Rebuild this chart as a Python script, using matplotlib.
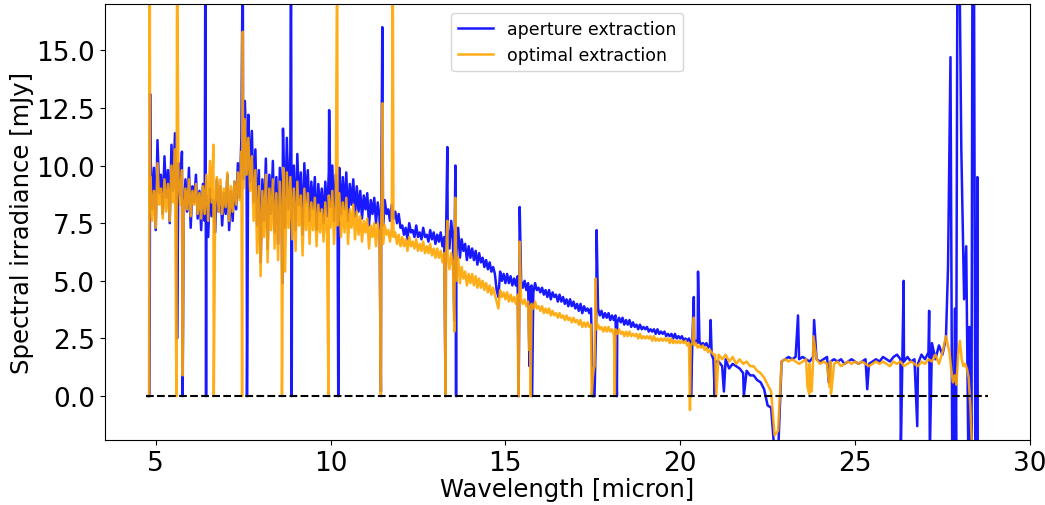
import numpy as np
import matplotlib.pyplot as plt

# sampled wavelength grid [micron]
wl_grid = [
    4.85, 4.90, 4.95, 5.00, 5.05, 5.10, 5.15, 5.20, 5.25, 5.30,
    5.35, 5.40, 5.45, 5.50, 5.55, 5.60, 5.65, 5.70, 5.75, 5.80,
    5.85, 5.90, 5.95, 6.00, 6.05, 6.10, 6.15, 6.20, 6.25, 6.30,
    6.35, 6.40, 6.45, 6.50, 6.55, 6.60, 6.65, 6.70, 6.75, 6.80,
    6.85, 6.90, 6.95, 7.00, 7.05, 7.10, 7.15, 7.20, 7.25, 7.30,
    7.35, 7.40, 7.45, 7.50, 7.55, 7.60, 7.65, 7.70, 7.75, 7.80,
    7.85, 7.90, 7.95, 8.00, 8.05, 8.10, 8.15, 8.20, 8.25, 8.30,
    8.35, 8.40, 8.45, 8.50, 8.55, 8.60, 8.65, 8.70, 8.75, 8.80,
    8.85, 8.90, 8.95, 9.00, 9.05, 9.10, 9.15, 9.20, 9.25, 9.30,
    9.35, 9.40, 9.45, 9.50, 9.55, 9.60, 9.65, 9.70, 9.75, 9.80,
    9.85, 9.90, 9.95, 10.00, 10.05, 10.10, 10.15, 10.20, 10.25, 10.30,
    10.35, 10.40, 10.45, 10.50, 10.55, 10.60, 10.65, 10.70, 10.75, 10.80,
    10.85, 10.90, 10.95, 11.00, 11.05, 11.10, 11.15, 11.20, 11.25, 11.30,
    11.35, 11.40, 11.45, 11.50, 11.55, 11.60, 11.65, 11.70, 11.75, 11.80,
    11.85, 11.90, 11.95, 12.00,
    12.05, 12.10, 12.15, 12.20, 12.25, 12.30, 12.35, 12.40, 12.45, 12.50,
    12.55, 12.60, 12.65, 12.70, 12.75, 12.80, 12.85, 12.90, 12.95, 13.00,
    13.05, 13.10, 13.15, 13.20, 13.25, 13.30, 13.35, 13.40, 13.45, 13.50,
    13.55, 13.60, 13.65, 13.70, 13.75, 13.80, 13.85, 13.90, 13.95, 14.00,
    14.05, 14.10, 14.15, 14.20, 14.25, 14.30, 14.35, 14.40, 14.45, 14.50,
    14.55, 14.60, 14.65, 14.70, 14.75, 14.80, 14.85, 14.90, 14.95, 15.00,
    15.05, 15.10, 15.15, 15.20, 15.25, 15.30, 15.35, 15.40, 15.45, 15.50,
    15.55, 15.60, 15.65, 15.70, 15.75, 15.80, 15.85, 15.90, 15.95, 16.00,
    16.05, 16.10, 16.15, 16.20, 16.25, 16.30, 16.35, 16.40, 16.45, 16.50,
    16.55, 16.60, 16.65, 16.70, 16.75, 16.80, 16.85, 16.90, 16.95, 17.00,
    17.05, 17.10, 17.15, 17.20, 17.25, 17.30, 17.35, 17.40, 17.45, 17.50,
    17.55, 17.60, 17.65, 17.70, 17.75, 17.80, 17.85, 17.90, 17.95, 18.00,
    18.05, 18.10, 18.15, 18.20, 18.25, 18.30, 18.35, 18.40, 18.45, 18.50,
    18.55, 18.60, 18.65, 18.70, 18.75, 18.80, 18.85, 18.90, 18.95, 19.00,
    19.05, 19.10, 19.15, 19.20, 19.25, 19.30, 19.35, 19.40, 19.45, 19.50,
    19.55, 19.60, 19.65, 19.70, 19.75, 19.80, 19.85, 19.90, 19.95, 20.00,
    20.05, 20.10, 20.15, 20.20, 20.25, 20.30, 20.35, 20.40, 20.45, 20.50,
    20.55, 20.60, 20.65, 20.70, 20.75, 20.80, 20.85, 20.90, 20.95, 21.00,
    21.1, 21.2, 21.3, 21.4, 21.5, 21.6, 21.7, 21.8, 21.9, 22.0,
    22.1, 22.2, 22.3, 22.4, 22.5, 22.6, 22.7, 22.8, 22.9, 23.0,
    23.1, 23.2, 23.3, 23.4, 23.5, 23.6, 23.7, 23.8, 23.9, 24.0,
    24.1, 24.2, 24.3, 24.4, 24.5, 24.6, 24.7, 24.8, 24.9, 25.0,
    25.1, 25.2, 25.3, 25.4, 25.5, 25.6, 25.7, 25.8, 25.9, 26.0,
    26.1, 26.2, 26.3, 26.4, 26.5, 26.6, 26.7, 26.8, 26.9, 27.0,
    27.1, 27.2, 27.3, 27.4, 27.5, 27.6,
]

# aperture extraction [mJy]
aperture_grid = [
    10.6, 8.1, 9.9, 7.2, 11.1, 8.8, 9.6, 7.9, 10.4, 8.6,
    9.8, 7.5, 10.9, 8.9, 11.4, 8.2, 10.1, 8.7, 10.6, 7.8,
    9.4, 8.0, 9.9, 7.3, 9.1, 8.4, 9.6, 7.7, 8.9, 7.2,
    9.2, 7.6, 8.7, 6.9, 9.0, 7.8, 8.5, 7.1, 9.4, 8.0,
    9.1, 7.4, 8.8, 7.9, 9.6, 7.2, 8.9, 7.6, 9.3, 8.1,
    10.1, 8.6, 11.2, 9.4, 12.8, 10.1, 12.2, 9.3, 11.5, 8.4,
    10.7, 7.4, 9.8, 5.8, 9.4, 7.6, 10.3, 6.4, 9.6, 7.9,
    10.2, 7.1, 9.5, 6.6, 9.9, 7.8, 10.8, 7.3, 11.2, 8.1,
    10.6, 7.9, 10.0, 7.2, 10.5, 8.3, 9.7, 7.0, 10.1, 8.4,
    9.8, 7.6, 9.3, 8.1, 9.5, 7.2, 9.2, 8.0, 9.0, 7.5,
    9.3, 7.8, 9.7, 8.2, 10.0, 7.6, 9.6, 8.4, 9.9, 7.9,
    9.5, 8.1, 9.7, 7.6, 9.2, 8.3, 9.4, 7.8, 9.1, 8.0,
    8.9, 7.7, 8.7, 8.1, 8.8, 7.4, 8.5, 7.9, 8.6, 7.5,
    8.4, 7.8, 8.2, 7.4, 8.5, 7.9, 8.1, 7.6, 8.3, 7.7,
    8.0, 7.5, 7.9, 7.3,
    7.4, 7.0, 7.3, 6.8, 7.5, 7.1, 7.2, 6.9, 7.4, 6.9,
    7.1, 6.8, 7.3, 6.9, 7.0, 6.7, 7.2, 6.8, 7.1, 6.6,
    7.0, 6.7, 7.1, 6.5, 6.9, 6.6, 7.3, 6.4, 7.6, 6.8,
    6.9, 6.2, 7.3, 6.0, 6.8, 6.3, 6.6, 5.9, 6.5, 6.0,
    6.4, 5.9, 6.3, 5.7, 6.2, 5.8, 6.0, 5.6, 5.9, 5.5,
    5.8, 5.4, 5.6, 5.3, 4.6, 4.3, 5.4, 5.0, 5.3, 4.9,
    5.3, 4.9, 5.2, 4.8, 5.1, 4.8, 5.2, 4.7, 5.0, 4.7,
    5.0, 4.6, 4.9, 4.7, 4.8, 4.5, 4.9, 4.6, 4.7, 4.5,
    4.7, 4.4, 4.6, 4.3, 4.6, 4.2, 4.5, 4.3, 4.4, 4.1,
    4.4, 4.1, 4.3, 4.0, 4.2, 3.9, 4.2, 3.9, 4.1, 3.8,
    4.0, 3.7, 4.0, 3.6, 3.9, 3.7, 3.8, 3.6, 3.8, 0.0,
    0.0, 3.5, 3.8, 3.5, 3.7, 3.4, 3.6, 3.4, 3.6, 3.3,
    3.5, 3.3, 3.5, 3.2, 3.4, 3.2, 3.4, 3.1, 3.3, 3.1,
    3.3, 3.0, 3.2, 3.0, 3.1, 2.9, 3.1, 2.9, 3.0, 2.9,
    3.0, 2.8, 2.9, 2.8, 2.9, 2.7, 2.9, 2.7, 2.8, 2.7,
    2.8, 2.6, 2.7, 2.6, 2.7, 2.5, 2.7, 2.5, 2.6, 2.5,
    2.6, 2.4, 2.5, 2.4, 2.5, 2.3, 2.5, 2.3, 2.4, 2.3,
    2.4, 2.2, 2.3, 2.2, 2.3, 2.1, 2.2, 1.8, 1.6, 1.5,
    1.5, 1.3, 1.6, 1.2, 1.4, 1.3, 1.2, 1.0, 1.1, 0.9,
    0.9, 0.7, 0.6, 0.3, -0.4, -0.5, -2.5, -2.5, 1.5, 1.6,
    1.7, 1.6, 1.7, 1.6, 1.7, 1.6, 1.5, 1.7, 1.6, 1.5,
    1.6, 1.7, 1.5, 1.6, 1.5, 1.6, 1.4, 1.5, 1.6, 1.5,
    1.4, 1.5, 1.6, 1.4, 1.5, 1.6, 1.5, 1.7, 1.6, 1.5,
    1.7, 1.8, 1.6, 1.5, 1.7, 1.5, 1.6, 1.4, 1.8, 1.6,
    1.9, 2.3, 1.6, 2.2, 1.8, 2.5,
]

# optimal extraction [mJy]
optimal_grid = [
    9.5, 7.6, 8.9, 7.3, 10.1, 8.3, 9.0, 7.7, 9.4, 8.0,
    9.2, 7.6, 10.0, 8.4, 10.7, 8.1, 9.5, 8.3, 9.8, 7.9,
    9.0, 8.1, 9.4, 7.8, 8.9, 8.3, 9.2, 7.9, 8.8, 7.7,
    9.1, 7.9, 9.6, 7.6, 10.2, 8.4, 10.9, 8.2, 9.5, 8.0,
    9.4, 7.9, 9.0, 8.2, 9.7, 7.6, 9.1, 8.0, 9.3, 8.3,
    9.7, 8.5, 10.6, 9.0, 12.0, 9.6, 11.2, 8.9, 10.4, 7.6,
    9.8, 6.2, 9.1, 5.2, 8.9, 6.9, 9.6, 5.8, 9.0, 7.2,
    9.4, 6.4, 8.8, 5.9, 9.3, 7.0, 9.9, 5.4, 9.7, 7.3,
    9.5, 6.8, 9.0, 6.3, 9.3, 7.4, 8.7, 6.1, 9.0, 7.2,
    8.8, 6.6, 8.4, 7.2, 8.6, 6.5, 8.3, 7.1, 8.1, 6.7,
    8.4, 6.9, 8.7, 7.3, 8.9, 6.6, 8.5, 7.4, 8.8, 6.9,
    8.4, 7.1, 8.6, 6.6, 8.1, 7.3, 8.3, 6.8, 8.0, 7.0,
    7.8, 6.7, 7.6, 7.1, 7.7, 6.4, 7.4, 6.9, 7.5, 6.5,
    7.5, 6.9, 7.3, 6.6, 7.4, 7.0, 7.2, 6.7, 7.3, 6.9,
    7.1, 6.6, 7.0, 6.5,
    6.9, 6.5, 6.8, 6.3, 6.9, 6.5, 6.7, 6.4, 6.8, 6.3,
    6.6, 6.3, 6.7, 6.2, 6.5, 6.2, 6.6, 6.1, 6.4, 6.0,
    6.4, 6.0, 6.3, 5.8, 6.2, 5.9, 6.1, 5.5, 6.2, 5.6,
    5.8, 5.0, 6.0, 4.9, 5.6, 5.1, 5.4, 4.8, 5.3, 4.9,
    5.3, 4.8, 5.2, 4.7, 5.1, 4.7, 5.0, 4.6, 4.9, 4.5,
    4.8, 4.4, 4.7, 4.4, 4.1, 3.8, 4.6, 4.3, 4.5, 4.2,
    4.5, 4.1, 4.4, 4.1, 4.3, 4.0, 4.4, 4.0, 4.2, 4.0,
    4.2, 3.9, 4.1, 3.9, 4.0, 3.8, 4.1, 3.8, 3.9, 3.7,
    3.9, 3.6, 3.8, 3.6, 3.8, 3.5, 3.7, 3.5, 3.6, 3.4,
    3.6, 3.4, 3.5, 3.3, 3.5, 3.3, 3.4, 3.2, 3.4, 3.2,
    3.3, 3.1, 3.3, 3.0, 3.2, 3.0, 3.2, 3.0, 3.1, 0.8,
    1.3, 2.9, 3.1, 2.9, 3.0, 2.8, 3.0, 2.8, 3.0, 2.8,
    2.9, 2.7, 2.9, 2.7, 2.9, 2.7, 2.8, 2.6, 2.8, 2.6,
    2.8, 2.6, 2.7, 2.6, 2.7, 2.5, 2.7, 2.5, 2.6, 2.5,
    2.6, 2.5, 2.6, 2.4, 2.6, 2.4, 2.5, 2.4, 2.5, 2.4,
    2.5, 2.4, 2.5, 2.3, 2.5, 2.3, 2.4, 2.3, 2.4, 2.3,
    2.4, 2.3, 2.4, 2.2, 2.3, 2.2, 2.3, 2.2, 2.3, 2.1,
    2.2, 2.1, 2.2, 2.0, 2.1, 1.9, 2.0, 1.9, 1.8, 1.8,
    1.8, 1.6, 1.8, 1.5, 1.7, 1.4, 1.6, 1.4, 1.5, 1.3,
    1.3, 1.1, 1.0, 0.8, 0.5, 0.2, -1.7, -1.5, 1.5, 1.6,
    1.5, 1.6, 1.5, 1.4, 1.5, 1.6, 1.4, 1.5, 1.6, 1.4,
    1.5, 1.4, 1.5, 1.4, 1.5, 1.3, 1.4, 1.5, 1.4, 1.5,
    1.4, 1.5, 1.4, 1.3, 1.4, 1.5, 1.4, 1.5, 1.4, 1.3,
    1.5, 1.4, 1.5, 1.3, 1.4, 1.5, 1.4, 1.3, 1.5, 1.4,
    1.6, 1.5, 1.8, 1.4, 1.9, 2.6,
]

# red end of the spectrum, irregular sampling
aperture_tail_wl = [27.66, 27.73, 27.78, 27.82, 27.86, 27.89, 27.93, 27.98, 28.04, 28.12,
                    28.18, 28.24, 28.27, 28.33, 28.36, 28.40, 28.44, 28.47, 28.50, 28.51]
aperture_tail = [5.6, 14.7, -2.5, -2.5, 3.8, -2.5, 20.0, 20.0, 10.7, 4.2,
                 6.5, -2.5, 3.0, -2.5, 20.0, 20.0, -2.5, -2.5, 9.5, -2.5]
optimal_tail_wl = [27.70, 27.75, 27.80, 27.85, 27.90, 27.95, 28.00, 28.05, 28.10, 28.15,
                   28.20, 28.25, 28.30, 28.35, 28.40]
optimal_tail = [1.9, 1.2, 0.6, 0.9, 0.5, 1.8, 2.4, 1.6, 1.3, 1.4,
                1.2, 0.8, -0.5, -2.5, -2.5]

# spikes and dropouts
aperture_spike_wl = [4.80, 4.82, 4.83, 4.84, 5.61, 5.77, 6.42, 6.44, 7.49, 7.61,
                     8.62, 8.64, 8.87, 8.89, 9.96, 10.22, 11.44, 11.48,
                     13.29, 13.34, 13.54, 13.57, 13.59, 15.38, 15.41, 15.69, 15.76,
                     17.61, 18.19, 20.31, 20.39, 20.51, 20.87, 20.99, 21.25, 21.82,
                     23.37, 23.83, 24.25, 25.35, 26.31, 26.39, 26.78, 27.12, 27.14]
aperture_spike = [0.0, 0.0, 4.3, 13.1, 2.5, 0.0, 20.0, 0.0, 20.0, 0.0,
                  4.9, 11.6, 20.0, 0.0, 12.4, 0.0, 0.2, 16.0,
                  0.0, 10.8, 3.3, 10.0, 0.0, 0.0, 8.2, 1.3, 0.0,
                  7.2, 0.0, 0.0, 4.3, 5.4, 3.3, 0.0, 0.2, 0.0,
                  3.5, 3.3, 0.6, 0.3, -2.5, 5.0, -1.3, 3.7, -2.5]
optimal_spike_wl = [4.81, 4.83, 4.84, 5.59, 5.61, 5.77, 6.66, 7.47, 7.49, 8.61,
                    9.94, 10.19, 11.44, 11.49, 11.78,
                    13.29, 13.34, 13.54, 13.57, 15.37, 15.41, 15.68, 15.72,
                    17.47, 17.53, 17.58, 18.11, 18.13, 20.28, 20.39, 21.03,
                    23.64, 23.69, 23.76, 23.81, 24.27, 24.31, 24.33]
optimal_spike = [0.0, 20.0, 8.0, 0.0, 20.0, 0.9, 0.0, 0.0, 15.8, 0.0,
                 0.0, 20.0, 0.0, 12.7, 20.0,
                 0.0, 7.6, 2.8, 8.6, 0.0, 6.7, 2.0, 0.0,
                 0.0, 1.2, 5.1, 2.3, 0.0, -0.6, 3.4, 0.0,
                 0.4, 0.1, 0.2, 2.6, 0.4, 0.1, 0.3]

zero_wl = [4.71, 28.81]
zero_level = [0.0, 0.0]


def merge(*parts):
    wl = np.concatenate([np.asarray(p[0], float) for p in parts])
    fl = np.concatenate([np.asarray(p[1], float) for p in parts])
    order = np.argsort(wl, kind="stable")
    return wl[order], fl[order]


ap_wl, ap = merge((wl_grid, aperture_grid), (aperture_tail_wl, aperture_tail),
                  (aperture_spike_wl, aperture_spike))
op_wl, op = merge((wl_grid, optimal_grid), (optimal_tail_wl, optimal_tail),
                  (optimal_spike_wl, optimal_spike))

fig = plt.figure(figsize=(10.45, 5.06), dpi=100)
ax = fig.add_axes([0.1005, 0.1285, 0.885, 0.8615])

ax.plot(ap_wl, ap, color="blue", alpha=0.9, lw=1.8, label="aperture extraction")
ax.plot(op_wl, op, color="orange", alpha=0.9, lw=1.8, label="optimal extraction")
ax.plot(zero_wl, zero_level, "k--", lw=1.5)

ax.set_xlim(3.55, 30)
ax.set_ylim(-1.9, 17.0)
ax.set_xticks([5, 10, 15, 20, 25, 30])
ax.set_yticks([0.0, 2.5, 5.0, 7.5, 10.0, 12.5, 15.0])
ax.yaxis.set_major_formatter(plt.FormatStrFormatter("%.1f"))
ax.tick_params(labelsize=19)
ax.set_xlabel("Wavelength [micron]", fontsize=17.5, labelpad=1)
ax.set_ylabel("Spectral irradiance [mJy]", fontsize=17.5, labelpad=2)
ax.legend(loc="upper center", fontsize=12.5)

fig.savefig("out.png")
